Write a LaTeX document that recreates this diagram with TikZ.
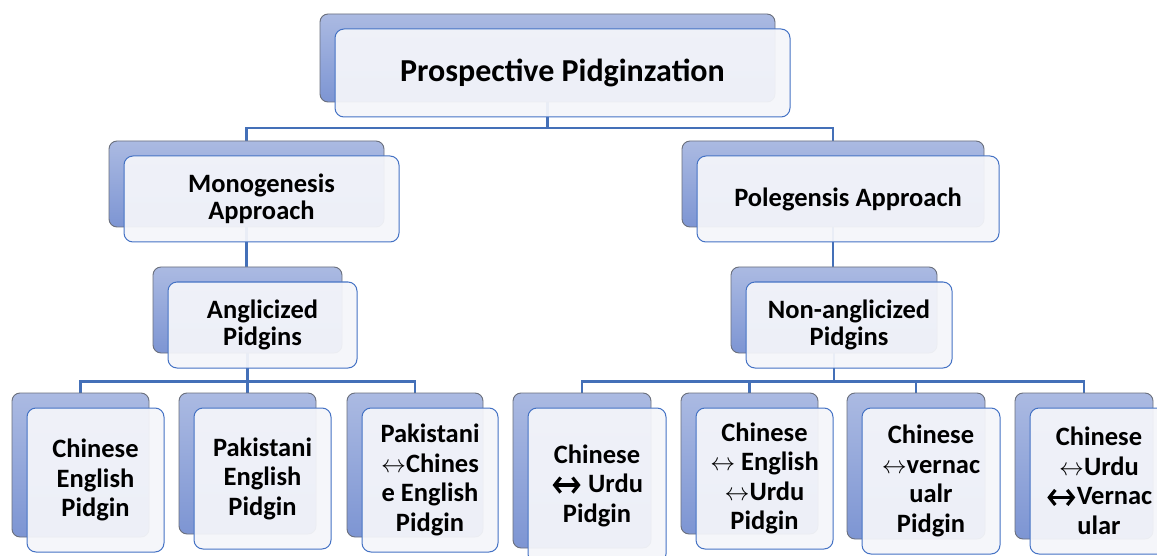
\documentclass[tikz,border=0pt]{standalone}
\usepackage{fontspec}
\setmainfont{Carlito}
\usetikzlibrary{arrows.meta}
\pgfdeclarelayer{bg}
\pgfsetlayers{bg,main}
\definecolor{backtop}{HTML}{ABBAE2}
\definecolor{backbot}{HTML}{7D95D3}
\definecolor{backline}{HTML}{6A6F7C}
\definecolor{frontfill}{HTML}{F4F5FA}
\definecolor{frontline}{HTML}{4472C4}
\definecolor{connline}{HTML}{4470B8}
\tikzset{
  backbox/.style={rectangle, rounded corners=8pt, draw=backline, line width=0.9pt,
    top color=backtop, bottom color=backbot, inner sep=0pt, outer sep=0pt},
  frontbox/.style={rectangle, rounded corners=9pt, draw=frontline, line width=1pt,
    fill=frontfill, fill opacity=0.94, text opacity=1, inner sep=2pt, outer sep=0pt,
    align=center, text=black},
  roottext/.style={font=\bfseries\fontsize{32}{34}\selectfont},
  midtext/.style={font=\bfseries\fontsize{26.5}{27.5}\selectfont},
  lowtext/.style={font=\bfseries\fontsize{26.5}{29.5}\selectfont},
  conn/.style={draw=connline, line width=2.5pt},
  heavyarrow/.style={line width=3.2pt, black,
    {Straight Barb[length=6pt,width=15pt,line width=3.2pt]}-{Straight Barb[length=6pt,width=15pt,line width=3.2pt]}},
}
\newcommand\thinarr{$\leftrightarrow$}
\newcommand\boldarr{\tikz[baseline={(0pt,-7.5pt)}]\draw[heavyarrow] (0pt,0pt) -- (28pt,0pt);}
% #1 name, #2 x1, #3 y1, #4 x2, #5 y2 (back box), #6 text style, #7 text
\newcommand\tierbox[7]{%
  \node[backbox, minimum width={(#4)-(#2)}, minimum height={(#5)-(#3)}]
    (#1b) at ({((#2)+(#4))/2},{((#3)+(#5))/2}) {};
  \node[frontbox, #6, minimum width={(#4)-(#2)}, minimum height={(#5)-(#3)}]
    (#1) at ({((#2)+(#4))/2+15},{((#3)+(#5))/2+15}) {#7};
}
\begin{document}
\begin{tikzpicture}[x=1pt,y=-1pt]
\useasboundingbox (0,0) rectangle (1157,556);
\tierbox{root}{320}{14}{775}{102}{roottext}{Prospective Pidginzation}
\tierbox{mono}{109}{141}{384}{227}{midtext}{Monogenesis\\Approach}
\tierbox{pole}{682}{141}{984}{227}{midtext}{Polegensis Approach}
\tierbox{angl}{153}{267}{342}{353}{midtext}{Anglicized\\Pidgins}
\tierbox{nang}{731}{267}{937}{353}{midtext}{Non-anglicized\\Pidgins}
\tierbox{ba}{12}{393}{149}{537}{lowtext}{Chinese\\English\\Pidgin}
\tierbox{bb}{179}{393}{316}{534}{lowtext}{Pakistani\\English\\Pidgin}
\tierbox{bc}{347}{393}{483}{537}{lowtext}{Pakistani\\\thinarr Chines\\e English\\Pidgin}
\tierbox{bd}{513}{393}{651}{548}{lowtext}{Chinese\\\boldarr{} Urdu\\Pidgin}
\tierbox{be}{681}{393}{818}{534}{lowtext}{Chinese\\\thinarr{} English\\\thinarr Urdu\\Pidgin}
\tierbox{bf}{847}{393}{985}{539}{lowtext}{Chinese\\\thinarr vernac\\ualr\\Pidgin}
\tierbox{bg}{1015}{393}{1153}{539}{lowtext}{Chinese\\\thinarr Urdu\\\boldarr Vernac\\ular}
\coordinate (bus1) at (0,128);
\coordinate (bus2) at (0,381.5);
\begin{pgfonlayer}{bg}
\draw[conn] (rootb.center) -- (rootb.center |- bus1) -| (monob.center);
\draw[conn] (rootb.center |- bus1) -| (poleb.center);
\draw[conn] (monob.center) -- (monob.center |- anglb.center);
\draw[conn] (poleb.center) -- (poleb.center |- nangb.center);
\draw[conn] (anglb.center) -- (anglb.center |- bus2) -| (bab.center);
\draw[conn] (anglb.center |- bus2) -- (bbb.center);
\draw[conn] (anglb.center |- bus2) -| (bcb.center);
\draw[conn] (nangb.center) -- (nangb.center |- bus2) -| (bdb.center);
\draw[conn] (nangb.center |- bus2) -| (beb.center);
\draw[conn] (nangb.center |- bus2) -| (bfb.center);
\draw[conn] (nangb.center |- bus2) -| (bgb.center);
\end{pgfonlayer}
\end{tikzpicture}
\end{document}
